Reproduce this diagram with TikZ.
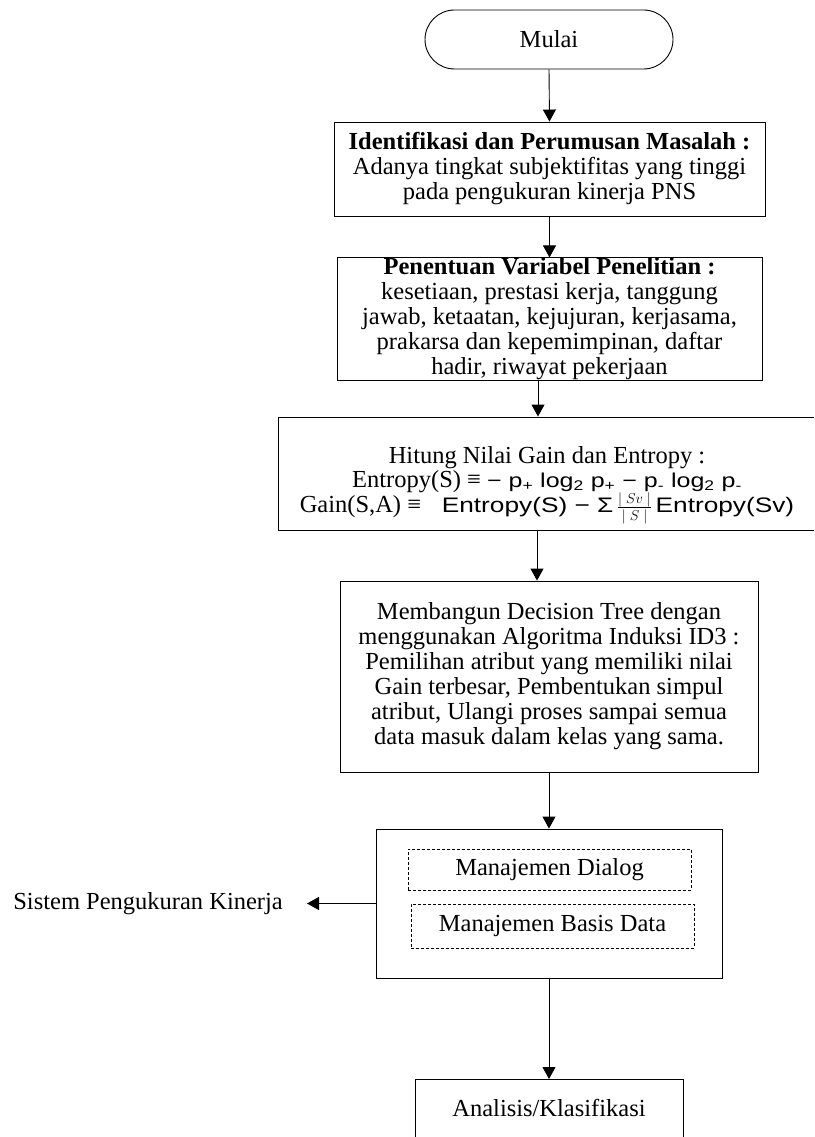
\documentclass[tikz,border=0pt]{standalone}
\usepackage{fontspec}
\setmainfont{Liberation Serif}
\newfontfamily\sansf[FakeStretch=1.25]{Liberation Sans}
\usetikzlibrary{arrows.meta}
\tikzset{
  every node/.style={font=\fontsize{24.5}{25}\selectfont},
  box/.style={draw, line width=0.9pt, inner sep=0pt, align=center},
  dbox/.style={draw, line width=0.7pt, dash pattern=on 3pt off 2pt, inner sep=0pt, align=center},
  term/.style={draw, line width=0.9pt, rounded corners=29.5pt, inner sep=0pt},
  arr/.style={-{Triangle[width=13pt,length=12pt]}, line width=0.9pt},
  plain/.style={inner sep=0pt, align=center}
}
\begin{document}
\begin{tikzpicture}[x=1pt,y=-1pt]
\useasboundingbox (0,0) rectangle (814,1137);
\clip (0,0) rectangle (814,1137);

\node[term, minimum width=248pt, minimum height=59pt] (t) at (549,39.5) {Mulai};

\node[box, minimum width=431pt, minimum height=94pt] (b1) at (549.5,169)
  {\textbf{Identifikasi dan Perumusan Masalah :}\\
   Adanya tingkat subjektifitas yang tinggi\\
   pada pengukuran kinerja PNS};

\node[box, minimum width=425pt, minimum height=118pt] (b2) at (549.5,319)
  {\textbf{Penentuan Variabel Penelitian :}\\
   kesetiaan, prestasi kerja, tanggung\\
   jawab, ketaatan, kejujuran, kerjasama,\\
   prakarsa dan kepemimpinan, daftar\\
   hadir, riwayat pekerjaan};

\node[box, minimum width=542pt, minimum height=113pt] (b3) at (549,473.5) {};
\node[plain] (b3t) at (547,485)
  {Hitung Nilai Gain dan Entropy :\\[-1pt]
   Entropy(S) ≡ {\sansf\fontsize{20}{22}\selectfont − p\textsubscript{+} log\textsubscript{2} p\textsubscript{+} − p\textsubscript{-} log\textsubscript{2} p\textsubscript{-}}\\[-1pt]
   Gain(S,A) ≡ {\sansf\fontsize{21}{22}\selectfont\ \ Entropy(S) − Σ\,$\frac{|\;Sv\;|}{|\;S\;|}$\,Entropy(Sv)}};

\node[box, minimum width=418pt, minimum height=191pt] (b4) at (549,676.5)
  {Membangun Decision Tree dengan\\
   menggunakan Algoritma Induksi ID3 :\\
   Pemilihan atribut yang memiliki nilai\\
   Gain terbesar, Pembentukan simpul\\
   atribut, Ulangi proses sampai semua\\
   data masuk dalam kelas yang sama.};

\node[box, minimum width=346pt, minimum height=149pt] (b5) at (549,903.5) {};
\node[dbox, minimum width=283pt, minimum height=41pt] (d1) at (549.5,869.5) {Manajemen Dialog};
\node[dbox, minimum width=283pt, minimum height=44pt] (d2) at (552.5,926) {Manajemen Basis Data};

\node[plain, anchor=east] (sis) at (283,903.5) {Sistem Pengukuran Kinerja};

\node[box, minimum width=268pt, minimum height=90pt, anchor=north] (b6) at (549,1079) {};
\node[plain] (b6t) at (549,1108) {Analisis/Klasifikasi};

\draw[arr] (t.south) -- (b1.north);
\draw[arr] (b1.south) -- (b2.north);
\draw[arr] ([xshift=-11.5pt]b2.south) -- ([xshift=-11.5pt]b2.south |- b3.north);
\draw[arr] ([xshift=-12pt]b3.south) -- ([xshift=-12pt]b3.south |- b4.north);
\draw[arr] (b4.south) -- (b5.north);
\draw[arr] (b5.west) -- ([xshift=24pt]sis.east);
\draw[arr] (b5.south) -- (b6.north);
\end{tikzpicture}
\end{document}
